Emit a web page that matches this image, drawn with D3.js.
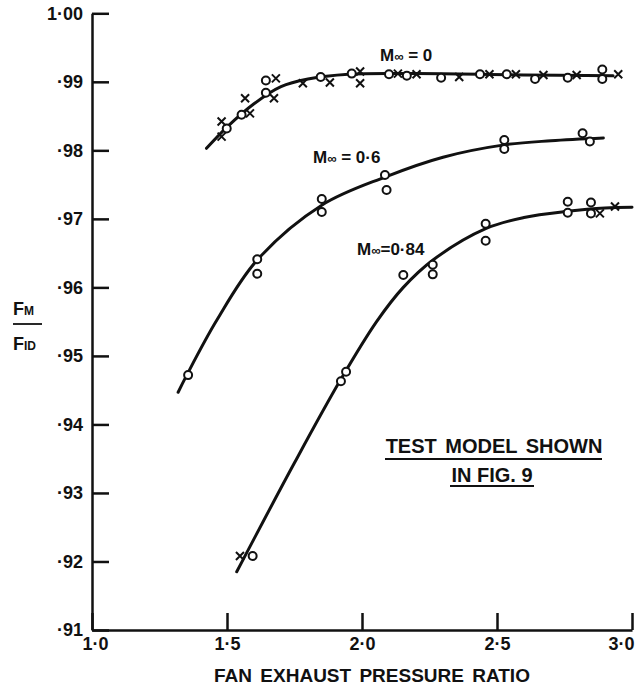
<!DOCTYPE html>
<html>
<head>
<meta charset="utf-8">
<script src="https://cdn.jsdelivr.net/npm/d3@7"></script>
<style>
  body { margin: 0; background: #fff; }
  text { font-family: "Liberation Sans", Arial, sans-serif; font-weight: bold; fill: #111; }
</style>
</head>
<body>
<script>
// tick values
var xTicks = [1.0, 1.5, 2.0, 2.5, 3.0];
var yTicks = [0.91, 0.92, 0.93, 0.94, 0.95, 0.96, 0.97, 0.98, 0.99, 1.00];

// M = 0 : circles, crosses and faired curve
var m0Circles = [[1.499,.9832],[1.554,.9852],[1.644,.9884],[1.644,.9902],[1.847,.9907],[1.962,.9912],
  [2.10,.9911],[2.166,.9909],[2.293,.9906],[2.437,.9911],[2.536,.9911],[2.641,.9904],[2.762,.9906],
  [2.89,.9918],[2.89,.9904]];
var m0Crosses = [[1.48,.9820],[1.48,.9842],[1.567,.9876],[1.585,.9854],[1.674,.9876],[1.681,.9905],
  [1.781,.9898],[1.881,.9899],[1.993,.9915],[1.993,.9898],[2.133,.9912],[2.202,.9911],[2.36,.9907],
  [2.472,.9911],[2.570,.9911],[2.672,.9910],[2.795,.9910],[2.949,.9911]];
var m0Curve = [[1.424,.9803],[1.50,.9834],[1.60,.9868],[1.70,.9893],[1.80,.9904],[1.95,.9911],
  [2.2,.9912],[2.6,.9910],[2.93,.9909]];

// M = 0.6
var m06Circles = [[1.356,.9472],[1.612,.9641],[1.612,.9620],[1.851,.9729],[1.851,.9710],[2.085,.9764],
  [2.091,.9742],[2.527,.9815],[2.527,.9802],[2.817,.9825],[2.844,.9813]];
var m06Curve = [[1.319,.9447],[1.351,.9472],[1.462,.9552],[1.612,.9640],[1.851,.9720],[2.085,.9761],
  [2.30,.9790],[2.527,.9808],[2.70,.9814],[2.894,.9818]];

// M = 0.84
var m084Circles = [[1.595,.9208],[1.922,.9463],[1.941,.9477],[2.153,.9618],[2.262,.9633],[2.262,.9619],
  [2.458,.9693],[2.458,.9668],[2.762,.9725],[2.762,.9709],[2.848,.9724],[2.848,.9708]];
var m084Crosses = [[1.548,.9208],[2.881,.9708],[2.937,.9718]];
var m084Curve = [[1.536,.9185],[1.75,.9344],[1.919,.9464],[2.054,.9550],[2.153,.9600],[2.263,.9640],
  [2.46,.9686],[2.60,.9702],[2.76,.9711],[2.90,.9716],[3.00,.9717]];

var width = 640, height = 689;

var svg = d3.select("body").append("svg")
    .attr("width", width)
    .attr("height", height);

var x = d3.scaleLinear().domain([1, 3]).range([92, 632]);
var y = d3.scaleLinear().domain([0.91, 1.00]).range([630, 13.3]);

// y axis, ticks pointing inwards
var yAxis = svg.append("g")
    .attr("transform", "translate(" + x(1) + ",0)")
    .call(d3.axisLeft(y)
        .tickValues(yTicks)
        .tickSizeInner(-17)
        .tickSizeOuter(0)
        .tickPadding(9)
        .tickFormat(function(d) { return d === 1 ? "1·00" : "·" + Math.round(d * 100); }));

// x axis
var xAxis = svg.append("g")
    .attr("transform", "translate(0," + y(0.91) + ")")
    .call(d3.axisBottom(x)
        .tickValues(xTicks)
        .tickSizeInner(-17)
        .tickSizeOuter(0)
        .tickPadding(7)
        .tickFormat(function(d) { return d.toFixed(1).replace(".", "·"); }));

[yAxis, xAxis].forEach(function(g) {
    g.selectAll("path, line").attr("stroke", "#111").attr("stroke-width", 2.5);
    g.selectAll("text").style("font-size", "18px").attr("fill", "#111");
});
xAxis.selectAll(".tick text")
    .filter(function(d) { return d === 3; })
    .attr("text-anchor", "end").attr("dx", 2);
xAxis.selectAll(".tick text")
    .filter(function(d) { return d === 1; })
    .attr("dx", 3);

// curves
var line = d3.line()
    .x(function(d) { return x(d[0]); })
    .y(function(d) { return y(d[1]); })
    .curve(d3.curveCatmullRom.alpha(0.5));

[m0Curve, m06Curve, m084Curve].forEach(function(c) {
    svg.append("path")
        .datum(c)
        .attr("d", line)
        .attr("fill", "none")
        .attr("stroke", "#111")
        .attr("stroke-width", 3)
        .attr("stroke-linecap", "round");
});

// markers
var circles = m0Circles.concat(m06Circles, m084Circles);
svg.selectAll("circle.pt")
    .data(circles)
    .enter().append("circle")
    .attr("class", "pt")
    .attr("cx", function(d) { return x(d[0]); })
    .attr("cy", function(d) { return y(d[1]); })
    .attr("r", 4)
    .attr("fill", "#fff")
    .attr("stroke", "#111")
    .attr("stroke-width", 2);

var crosses = m0Crosses.concat(m084Crosses);
var s = 4;
svg.selectAll("path.cross")
    .data(crosses)
    .enter().append("path")
    .attr("class", "cross")
    .attr("d", function(d) {
        var cx = x(d[0]), cy = y(d[1]);
        return "M" + (cx - s) + "," + (cy - s) + "L" + (cx + s) + "," + (cy + s) +
               "M" + (cx - s) + "," + (cy + s) + "L" + (cx + s) + "," + (cy - s);
    })
    .attr("stroke", "#111")
    .attr("stroke-width", 2)
    .attr("fill", "none");

// curve labels
function machLabel(px, py, value, spaced) {
    var t = svg.append("text").attr("x", px).attr("y", py).style("font-size", "17px");
    t.append("tspan").text("M");
    t.append("tspan").text("∞").style("font-size", "13px");
    t.append("tspan").text(spaced ? " = " + value : "=" + value);
}
machLabel(380, 61, "0", true);
machLabel(313, 163, "0·6", true);
machLabel(357, 255, "0·84", false);

// y axis label F_M / F_ID
var fm = svg.append("text").attr("x", 13).attr("y", 315).style("font-size", "18px");
fm.append("tspan").text("F");
fm.append("tspan").text("M").style("font-size", "12px");
svg.append("line").attr("x1", 13).attr("x2", 42).attr("y1", 324).attr("y2", 324)
    .attr("stroke", "#111").attr("stroke-width", 1.8);
var fid = svg.append("text").attr("x", 13).attr("y", 350).style("font-size", "18px");
fid.append("tspan").text("F");
fid.append("tspan").text("ID").style("font-size", "12px");

// x axis title
svg.append("text")
    .attr("x", 372).attr("y", 682)
    .attr("text-anchor", "middle")
    .style("font-size", "19px")
    .style("word-spacing", "3px")
    .text("FAN EXHAUST PRESSURE RATIO");

// note
svg.append("text")
    .attr("x", 494).attr("y", 453)
    .attr("text-anchor", "middle")
    .style("font-size", "20px")
    .style("word-spacing", "3px")
    .text("TEST MODEL SHOWN");
svg.append("line").attr("x1", 385).attr("x2", 602).attr("y1", 459).attr("y2", 459)
    .attr("stroke", "#111").attr("stroke-width", 2);
svg.append("text")
    .attr("x", 492).attr("y", 482)
    .attr("text-anchor", "middle")
    .style("font-size", "20px")
    .text("IN FIG. 9");
svg.append("line").attr("x1", 450).attr("x2", 534).attr("y1", 486).attr("y2", 486)
    .attr("stroke", "#111").attr("stroke-width", 2);
</script>
</body>
</html>
